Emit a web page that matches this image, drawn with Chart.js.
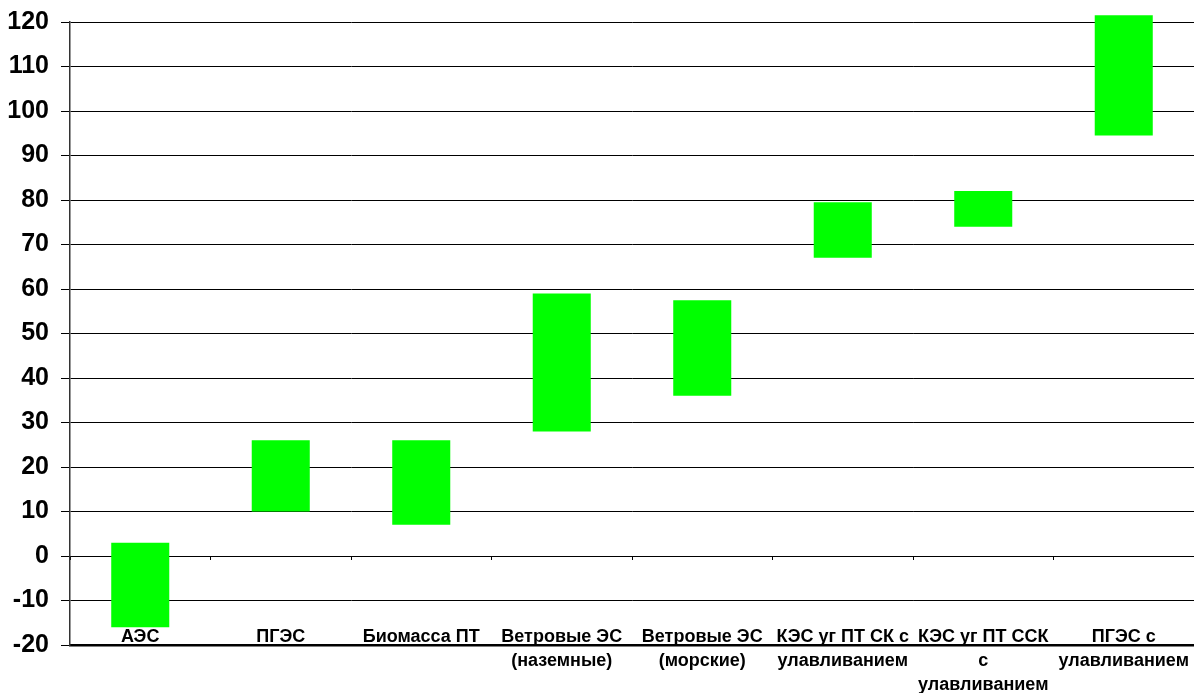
<!DOCTYPE html>
<html>
<head>
<meta charset="utf-8">
<script src="https://cdn.jsdelivr.net/npm/chart.js@4/dist/chart.umd.min.js"></script>
<style>
  html, body { margin: 0; padding: 0; background: #fff; }
  #wrap { width: 1194px; height: 693px; }
</style>
</head>
<body>
<div id="wrap"><canvas id="rangeChart"></canvas></div>
<script>
// categories (multi-line labels) and the low/high end of each range
const categories = [
  "АЭС",
  "ПГЭС",
  "Биомасса ПТ",
  ["Ветровые ЭС", "(наземные)"],
  ["Ветровые ЭС", "(морские)"],
  ["КЭС уг ПТ СК с", "улавливанием"],
  ["КЭС уг ПТ ССК", "с", "улавливанием"],
  ["ПГЭС с", "улавливанием"]
];
const lowValues  = [-16, 10, 7, 28, 36, 67, 74, 94.5];
const highValues = [3, 26, 26, 59, 57.5, 79.5, 82, 121.5];

const yMin = -20, yMax = 120, yStep = 10;

const ranges = lowValues.map((lo, i) => [lo, highValues[i]]);
const fontFamily = "Arial, 'Liberation Sans', sans-serif";

new Chart(document.getElementById("rangeChart"), {
  type: "bar",
  data: {
    labels: categories,
    datasets: [{
      data: ranges,
      backgroundColor: "#00ff00",
      borderWidth: 0,
      barPercentage: 0.413,
      categoryPercentage: 1,
      clip: false
    }]
  },
  options: {
    responsive: true, maintainAspectRatio: false,
    animation: false,
    layout: { padding: { top: 22, right: 0, left: 0, bottom: 48 } },
    plugins: { legend: { display: false }, tooltip: { enabled: false } },
    scales: {
      // category axis pinned to the bottom value; labels sit just above its line
      x: {
        position: { y: yMin },
        grid: { display: false, drawTicks: false },
        border: { display: true, color: "#000", width: 2.5 },
        ticks: {
          color: "#000",
          padding: -20,
          maxRotation: 0,
          autoSkip: false,
          font: { family: fontFamily, size: 18, weight: "bold", lineHeight: 1.33 }
        }
      },
      // tick marks between categories along the zero line
      xZero: {
        type: "category",
        position: { y: 0 },
        offset: true,
        grid: { offset: true, drawOnChartArea: false, drawTicks: true, tickLength: 4, color: "#000" },
        border: { display: false },
        ticks: { display: false }
      },
      y: {
        min: yMin, max: yMax,
        grid: { color: "#000", lineWidth: 1, tickLength: 9 },
        border: { display: true, color: "#333", width: 1.5 },
        ticks: {
          stepSize: yStep,
          color: "#000",
          padding: 12,
          font: { family: fontFamily, size: 25, weight: "bold" }
        },
        afterFit: s => { s.width = 70; s.paddingTop = 0; s.paddingBottom = 0; }
      }
    }
  }
});
</script>
</body>
</html>
